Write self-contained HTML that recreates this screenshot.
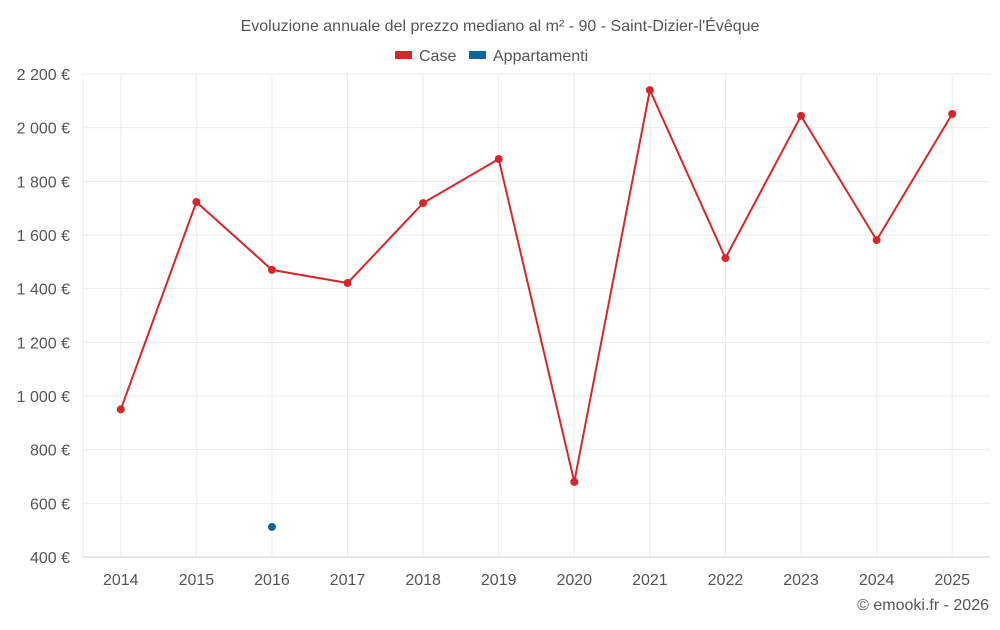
<!DOCTYPE html>
<html><head><meta charset="utf-8"><style>
body{margin:0;background:#fff;font-family:"Liberation Sans",sans-serif;}
svg text{font-family:"Liberation Sans",sans-serif;}
</style></head><body>
<svg id="chart" width="1000" height="625">
<text x="500" y="31" text-anchor="middle" font-size="16" fill="#555">Evoluzione annuale del prezzo mediano al m² - 90 - Saint-Dizier-l'Évêque</text>
<g>
<g><rect x="395" y="51" width="17" height="8" fill="#d7262b"/><text x="419" y="61" font-size="16" fill="#555">Case</text></g>
<g><rect x="469" y="51" width="17" height="8" fill="#0b6699"/><text x="493" y="61" font-size="16" fill="#555">Appartamenti</text></g>
</g>
<g id="grid"></g>
<g id="axes"></g>
<g id="series"></g>
<text x="989" y="610" text-anchor="end" font-size="16" fill="#555">© emooki.fr - 2026</text>
</svg>
<script>
const years=["2014","2015","2016","2017","2018","2019","2020","2021","2022","2023","2024","2025"];
const caseValues=[950,1723,1470,1421,1719,1883,680,2140,1514,2044,1581,2051];
const appValues=[null,null,512,null,null,null,null,null,null,null,null,null];
const yTicks=[400,600,800,1000,1200,1400,1600,1800,2000,2200];
const yTickLabels=["400 €","600 €","800 €","1 000 €","1 200 €","1 400 €","1 600 €","1 800 €","2 000 €","2 200 €"];
const NS="http://www.w3.org/2000/svg";
const L=83,R=990,T=74,B=557,yMin=400,yMax=2200;
const bw=(R-L)/years.length;
function x(i){return L+bw*(i+0.5);}
function y(v){return B-(v-yMin)/(yMax-yMin)*(B-T);}
function mk(tag,attrs,parent){const e=document.createElementNS(NS,tag);for(const k in attrs)e.setAttribute(k,attrs[k]);parent.appendChild(e);return e;}
const grid=document.getElementById('grid'),axes=document.getElementById('axes'),series=document.getElementById('series');
const lv=mk('line',{x1:L,x2:L,y1:T,y2:B,stroke:'#ebebeb'},grid);


yTicks.forEach((t,i)=>{
 const g=mk('line',{x1:L,x2:R,y1:y(t),y2:y(t),stroke:i==0?'#ccc':'#ebebeb'},grid);
 
 
 const tx=mk('text',{x:70,y:y(t)+6,'text-anchor':'end','font-size':16,fill:'#555'},axes);
 tx.textContent=yTickLabels[i];
 
 
});
years.forEach((yr,i)=>{
 const l=mk('line',{x1:x(i),x2:x(i),y1:T,y2:B,stroke:'#ebebeb'},grid);
 
 
 const tx=mk('text',{x:x(i),y:585,'text-anchor':'middle','font-size':16,fill:'#555'},axes);
 tx.textContent=yr;
 
 
});
const pts=caseValues.map((v,i)=>x(i)+','+y(v)).join(' ');
const pl=mk('polyline',{points:pts,fill:'none',stroke:'#d7262b','stroke-width':2},series);


caseValues.forEach((v,i)=>{
 const c=mk('circle',{cx:x(i),cy:y(v),r:4,fill:'#d7262b'},series);
 
 
});
appValues.forEach((v,i)=>{
 if(v==null)return;
 const c=mk('circle',{cx:x(i),cy:y(v),r:4,fill:'#0b6699'},series);
 
 
});
</script>
</body></html>
